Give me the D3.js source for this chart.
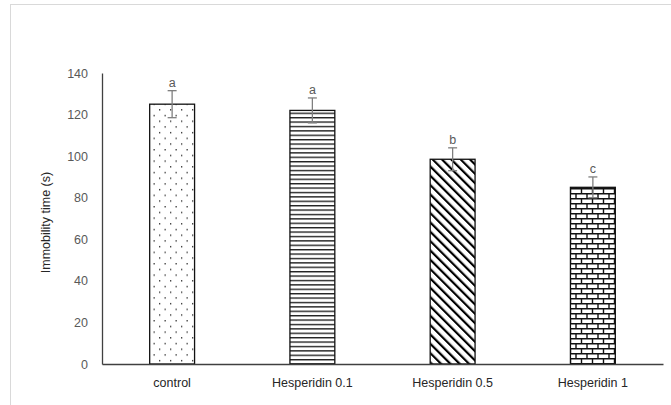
<!DOCTYPE html>
<html>
<head>
<meta charset="utf-8">
<script src="https://cdn.jsdelivr.net/npm/d3@7"></script>
<style>
  body { margin: 0; background: #fff; }
  svg text { font-family: "Liberation Sans", Arial, sans-serif; }
</style>
</head>
<body>
<div id="chart"></div>
<script>
const categories = ['control', 'Hesperidin 0.1', 'Hesperidin 0.5', 'Hesperidin 1'];
const means = [125, 122, 98.5, 85];
const errors = [6.5, 6, 5.5, 5];
const letters = ['a', 'a', 'b', 'c'];
const patterns = ['dots', 'hlines', 'diag', 'brick'];
const yTicks = [0, 20, 40, 60, 80, 100, 120, 140];

const W = 671, H = 405;
const margin = { top: 73, right: 10, bottom: 41, left: 102 };
const plotW = 663 - margin.left;
const plotH = H - margin.top - margin.bottom;

const svg = d3.select('#chart').append('svg')
  .attr('width', W)
  .attr('height', H);

// light frame around the chart area
svg.append('rect')
  .attr('x', 10.5).attr('y', 4.5)
  .attr('width', 700).attr('height', 420)
  .attr('fill', 'none')
  .attr('stroke', '#d9d9d9');

const defs = svg.append('defs');

// dotted pattern
const pDots = defs.append('pattern').attr('id', 'dots')
  .attr('patternUnits', 'userSpaceOnUse').attr('width', 11).attr('height', 11.4);
pDots.append('rect').attr('x', 2).attr('y', 2).attr('width', 1.3).attr('height', 1.3).attr('fill', '#222');
pDots.append('rect').attr('x', 7.5).attr('y', 7.7).attr('width', 1.3).attr('height', 1.3).attr('fill', '#222');

// horizontal lines
const pH = defs.append('pattern').attr('id', 'hlines')
  .attr('patternUnits', 'userSpaceOnUse').attr('width', 8).attr('height', 4.4);
pH.append('line').attr('x1', 0).attr('x2', 8).attr('y1', 0.7).attr('y2', 0.7)
  .attr('stroke', '#111').attr('stroke-width', 1.3);

// diagonal lines (top-left to bottom-right)
const pD = defs.append('pattern').attr('id', 'diag')
  .attr('patternUnits', 'userSpaceOnUse').attr('width', 6.6).attr('height', 6.6)
  .attr('patternTransform', 'rotate(-45)');
pD.append('line').attr('x1', 0).attr('x2', 0).attr('y1', 0).attr('y2', 6.6)
  .attr('stroke', '#000').attr('stroke-width', 4.4);

// brick
const pB = defs.append('pattern').attr('id', 'brick')
  .attr('patternUnits', 'userSpaceOnUse').attr('width', 11).attr('height', 10);
pB.append('path')
  .attr('d', 'M0,0.7H11M0,5.7H11M1,0.7V5.7M6.5,5.7V10.7')
  .attr('stroke', '#111').attr('stroke-width', 1.4).attr('fill', 'none');

const g = svg.append('g')
  .attr('transform', `translate(${margin.left},${margin.top})`);

const x = d3.scaleBand()
  .domain(categories)
  .range([0, plotW])
  .paddingInner(0.68)
  .paddingOuter(0.34);

const y = d3.scaleLinear()
  .domain([0, 140])
  .range([plotH, 0]);

// y axis
const yAxis = g.append('g')
  .call(d3.axisLeft(y).tickValues(yTicks).tickSize(0).tickPadding(14));
yAxis.select('.domain').attr('stroke', '#404040').attr('stroke-width', 1.3);
yAxis.selectAll('text')
  .attr('fill', '#595959')
  .style('font-size', '12.5px');

// bars
g.selectAll('.bar')
  .data(categories)
  .enter()
  .append('rect')
  .attr('class', 'bar')
  .attr('x', d => x(d))
  .attr('y', (d, i) => y(means[i]))
  .attr('width', x.bandwidth())
  .attr('height', (d, i) => plotH - y(means[i]))
  .attr('fill', (d, i) => `url(#${patterns[i]})`)
  .attr('stroke', '#111')
  .attr('stroke-width', 1.3);

// error bars
const eb = g.selectAll('.err')
  .data(categories)
  .enter()
  .append('g')
  .attr('class', 'err')
  .attr('stroke', '#7f7f7f')
  .attr('stroke-width', 1.3);
eb.append('line')
  .attr('x1', d => x(d) + x.bandwidth() / 2)
  .attr('x2', d => x(d) + x.bandwidth() / 2)
  .attr('y1', (d, i) => y(means[i] - errors[i]))
  .attr('y2', (d, i) => y(means[i] + errors[i]));
eb.append('line')
  .attr('x1', d => x(d) + x.bandwidth() / 2 - 4.5)
  .attr('x2', d => x(d) + x.bandwidth() / 2 + 4.5)
  .attr('y1', (d, i) => y(means[i] + errors[i]))
  .attr('y2', (d, i) => y(means[i] + errors[i]));
eb.append('line')
  .attr('x1', d => x(d) + x.bandwidth() / 2 - 4.5)
  .attr('x2', d => x(d) + x.bandwidth() / 2 + 4.5)
  .attr('y1', (d, i) => y(means[i] - errors[i]))
  .attr('y2', (d, i) => y(means[i] - errors[i]));

// significance letters
g.selectAll('.letter')
  .data(categories)
  .enter()
  .append('text')
  .attr('class', 'letter')
  .attr('x', d => x(d) + x.bandwidth() / 2)
  .attr('y', (d, i) => y(means[i] + errors[i]) - 4)
  .attr('text-anchor', 'middle')
  .attr('fill', '#595959')
  .style('font-size', '12.5px')
  .text((d, i) => letters[i]);

// x axis
const xAxis = g.append('g')
  .attr('transform', `translate(0,${plotH})`)
  .call(d3.axisBottom(x).tickSize(0).tickPadding(14));
xAxis.select('.domain').attr('stroke', '#404040').attr('stroke-width', 1.3);
xAxis.selectAll('text')
  .attr('fill', '#262626')
  .style('font-size', '12.5px');

// y label
svg.append('text')
  .attr('transform', `translate(50,${margin.top + plotH / 2 + 4}) rotate(-90)`)
  .attr('text-anchor', 'middle')
  .attr('fill', '#262626')
  .style('font-size', '12.5px')
  .text('Immobility time (s)');
</script>
</body>
</html>
